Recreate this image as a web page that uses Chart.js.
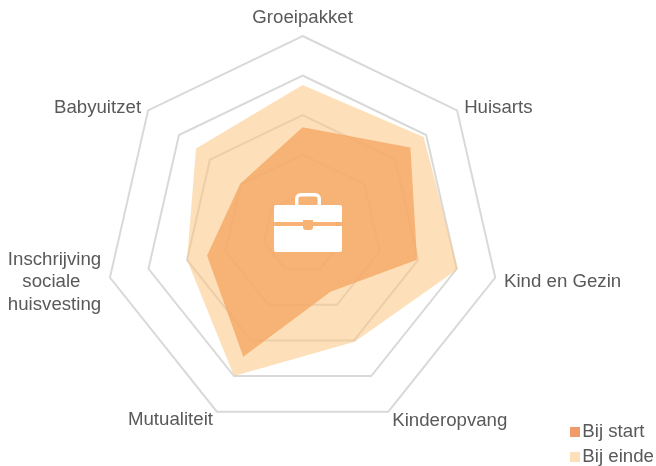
<!DOCTYPE html>
<html><head><meta charset="utf-8">
<style>html,body{margin:0;padding:0;background:#fff}#w{width:656px;height:466px;position:relative}</style>
<script src="https://cdn.jsdelivr.net/npm/chart.js@4"></script>
</head><body><div id="w"><canvas id="c"></canvas></div>
<script>
const categories = ['Groeipakket','Huisarts','Kind en Gezin','Kinderopvang','Mutualiteit',
  ['Inschrijving','sociale    ','huisvesting'],'Babyuitzet'];
const bijStart = [2.69,3.49,2.97,1.63,3.46,2.48,2.02];
const bijEinde = [3.76,3.92,4.03,3.04,4.00,3.00,3.45];
const seriesNames = ['Bij start','Bij einde'];
const colorStart = 'rgba(236,130,68,.8)';
const colorEinde = 'rgba(251,199,127,.55)';
const labelShiftY = [2,14,-9,-10,-11,-31,14];
const fontFamily = '"Liberation Sans", Arial, sans-serif';

function legendSwatch(color){
  const cv=document.createElement('canvas');cv.width=18;cv.height=10;
  const g=cv.getContext('2d');g.fillStyle=color;g.fillRect(8,0,10,10);
  return cv;
}
function rr(ctx,x,y,w,h,tl,tr,br,bl){
  ctx.moveTo(x+tl,y);ctx.lineTo(x+w-tr,y);ctx.arcTo(x+w,y,x+w,y+tr,tr);
  ctx.lineTo(x+w,y+h-br);ctx.arcTo(x+w,y+h,x+w-br,y+h,br);
  ctx.lineTo(x+bl,y+h);ctx.arcTo(x,y+h,x,y+h-bl,bl);
  ctx.lineTo(x,y+tl);ctx.arcTo(x,y,x+tl,y,tl);ctx.closePath();
}
const briefcase = {id:'briefcase',afterDatasetsDraw(chart){
  const c=chart.ctx;c.save();c.fillStyle='#fff';
  const x=274,w=68;
  c.beginPath();
  c.moveTo(x+2,205);c.lineTo(x+w-2,205);c.arcTo(x+w,205,x+w,207,2);c.lineTo(x+w,222);
  c.lineTo(313,222);c.lineTo(313,220);c.lineTo(303,220);c.lineTo(303,222);c.lineTo(x,222);c.lineTo(x,207);c.arcTo(x,205,x+2,205,2);c.closePath();
  c.fill();
  c.beginPath();
  c.moveTo(x,226);c.lineTo(303,226);c.lineTo(303,227);c.arcTo(303,230,306,230,3);c.lineTo(310,230);c.arcTo(313,230,313,227,3);c.lineTo(313,226);
  c.lineTo(x+w,226);c.lineTo(x+w,250);c.arcTo(x+w,252,x+w-2,252,2);c.lineTo(x+2,252);c.arcTo(x,252,x,250,2);c.closePath();
  c.fill();
  c.strokeStyle='#fff';c.lineWidth=3.4;c.beginPath();rr(c,296.7,194.7,22.6,14,4,4,0,0);c.stroke();
  c.restore();
}};
const legendPad = 6.33;
const legendPlace = {id:'legendPlace',
  beforeLayout(chart){ chart.legend.afterFit=function(){this.width=0;}; },
  afterLayout(chart){ const l=chart.legend; l.left=569-legendPad; l.right=656; l.top=422.67-legendPad; l.bottom=1000; }
};
new Chart(document.getElementById('c'),{
  type:'radar',
  data:{labels:categories,datasets:[
    {label:seriesNames[0],data:bijStart,backgroundColor:colorStart,borderWidth:0,pointRadius:0,pointStyle:legendSwatch(colorStart),fill:true,order:2},
    {label:seriesNames[1],data:bijEinde,backgroundColor:colorEinde,borderWidth:0,pointRadius:0,pointStyle:legendSwatch(colorEinde),fill:true,order:1}
  ]},
  plugins:[legendPlace,briefcase],
  options:{
    responsive:true,maintainAspectRatio:false,animation:false,
    elements:{line:{tension:0}},
    plugins:{
      tooltip:{enabled:false},
      legend:{display:true,position:'right',align:'start',
        labels:{usePointStyle:true,boxWidth:4,boxHeight:11,padding:legendPad,color:'#595959',font:{family:fontFamily,size:18.67},
          sort:(a,b)=>a.datasetIndex-b.datasetIndex}}
    },
    scales:{r:{min:0,max:5,
      beforeFit(scale){ scale.setCenterPoint=function(){this.xCenter=302.6;this.yCenter=233.6;this.drawingArea=197.6;}; },
      afterFit(scale){ (scale._pointLabelItems||[]).forEach((it,i)=>{it.y+=labelShiftY[i];}); },
      ticks:{display:false,stepSize:1},
      angleLines:{display:false},
      grid:{color:'#d9d9d9',lineWidth:2},
      pointLabels:{color:'#595959',padding:9,font:{family:fontFamily,size:18.67}}
    }}
  }
});
</script></body></html>
